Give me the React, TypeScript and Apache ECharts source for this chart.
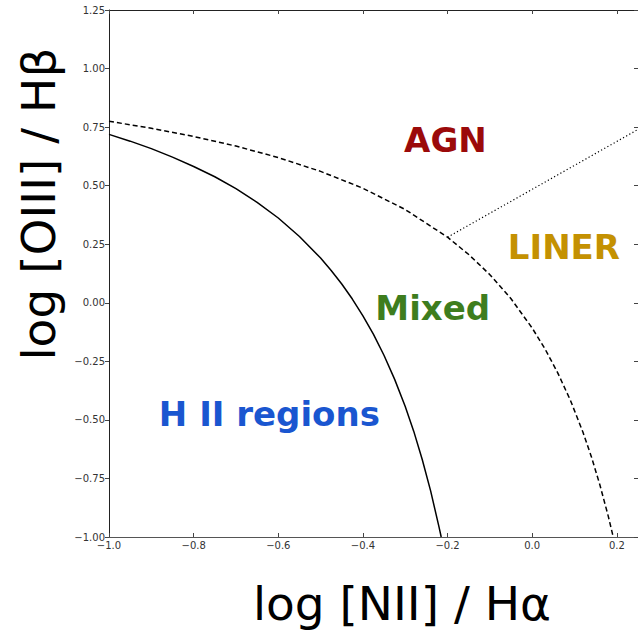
import React, { useEffect, useRef } from "react";
import * as echarts from "echarts";

// Kauffmann et al. (2003) demarcation, solid line: points
const kauffmannX = [-1.0, -0.95, -0.9, -0.85, -0.8, -0.75, -0.7, -0.65, -0.6, -0.55, -0.5, -0.475, -0.45, -0.425, -0.4, -0.375, -0.35, -0.325, -0.3, -0.28, -0.26, -0.24, -0.22, -0.215];
const kauffmannY = [0.719, 0.69, 0.658, 0.622, 0.582, 0.538, 0.487, 0.429, 0.362, 0.283, 0.191, 0.138, 0.08, 0.016, -0.056, -0.135, -0.225, -0.327, -0.443, -0.548, -0.668, -0.803, -0.959, -1.0];

// Kewley et al. (2001) maximum starburst line, dashed
const kewleyX = [-1.0, -0.9, -0.8, -0.7, -0.6, -0.5, -0.4, -0.3, -0.2, -0.15, -0.1, -0.05, 0.0, 0.03, 0.06, 0.09, 0.12, 0.14, 0.16, 0.18, 0.19, 0.1915];
const kewleyY = [0.775, 0.745, 0.71, 0.669, 0.62, 0.561, 0.489, 0.398, 0.28, 0.206, 0.12, 0.017, -0.108, -0.196, -0.298, -0.415, -0.553, -0.658, -0.778, -0.913, -0.989, -1.0];

// Seyfert / LINER division, dotted
const linerX = [-0.2, 0.25];
const linerY = [0.28, 0.74];

// Region labels
const regionNames = ["AGN", "LINER", "Mixed", "H II regions"];
const regionX = [-0.205, 0.075, -0.235, -0.621];
const regionY = [0.695, 0.238, -0.022, -0.475];
const regionColors = ["#9b0a0a", "#c49102", "#3e7d1e", "#1a56d0"];

const xTitle = "log [NII] / Hα";
const yTitle = "log [OIII] / Hβ";

const zip = (xs: number[], ys: number[]) => xs.map((x, i) => [x, ys[i]]);
const minus = (s: string) => s.replace("-", "\u2212");

export default function App() {
  const ref = useRef<HTMLDivElement>(null);
  useEffect(() => {
    if (!ref.current) return;
    const chart = echarts.init(ref.current, null, { renderer: "svg" });
    const tickFont = { fontFamily: "DejaVu Sans", fontSize: 10, color: "#333" };
    const titleFont = "DejaVu Sans";
    chart.setOption({
      animation: false,
      backgroundColor: "#ffffff",
      grid: { left: 109, right: -2, top: 10, bottom: 93, show: false },
      xAxis: [
        {
          type: "value",
          min: -1.0,
          max: 0.25,
          interval: 0.2,
          position: "bottom",
          axisLine: { show: true, onZero: false, lineStyle: { color: "#555", width: 1 } },
          axisTick: { show: true, inside: true, length: 4, lineStyle: { color: "#444" } },
          axisLabel: {
            ...tickFont,
            margin: 3,
            showMaxLabel: false,
            formatter: (v: number) => minus(v.toFixed(1)),
          },
          splitLine: { show: false },
        },
        {
          type: "value",
          min: -1.0,
          max: 0.25,
          interval: 0.2,
          position: "top",
          axisLine: { show: true, onZero: false, lineStyle: { color: "#222", width: 1 } },
          axisTick: { show: true, inside: true, length: 4, lineStyle: { color: "#444" } },
          axisLabel: { show: false },
          splitLine: { show: false },
        },
      ],
      yAxis: [
        {
          type: "value",
          min: -1.0,
          max: 1.25,
          interval: 0.25,
          position: "left",
          axisLine: { show: true, onZero: false, lineStyle: { color: "#222", width: 1 } },
          axisTick: { show: true, inside: false, length: 4, lineStyle: { color: "#444" } },
          axisLabel: {
            ...tickFont,
            margin: 4,
            formatter: (v: number) => minus(v.toFixed(2)),
          },
          splitLine: { show: false },
        },
        {
          type: "value",
          min: -1.0,
          max: 1.25,
          interval: 0.25,
          position: "right",
          axisLine: { show: false, onZero: false },
          axisTick: { show: true, inside: true, length: 4, lineStyle: { color: "#444" } },
          axisLabel: { show: false },
          splitLine: { show: false },
        },
      ],
      series: [
        {
          type: "line",
          data: zip(kauffmannX, kauffmannY),
          showSymbol: false,
          symbol: "none",
          lineStyle: { color: "#000", width: 1.5, type: "solid" },
          silent: true,
        },
        {
          type: "line",
          data: zip(kewleyX, kewleyY),
          showSymbol: false,
          symbol: "none",
          lineStyle: { color: "#000", width: 1.5, type: [5, 3] },
          silent: true,
        },
        {
          type: "line",
          data: zip(linerX, linerY),
          showSymbol: false,
          symbol: "none",
          lineStyle: { color: "#000", width: 1.2, type: [1.2, 2.4] },
          silent: true,
        },
        {
          type: "scatter",
          symbolSize: 0,
          silent: true,
          itemStyle: { opacity: 1 },
          data: regionNames.map((n, i) => ({
            value: [regionX[i], regionY[i]],
            name: n,
            label: {
              show: true,
              position: "inside",
              formatter: n,
              color: regionColors[i],
              opacity: 1,
              fontFamily: titleFont,
              fontWeight: "bold",
              fontSize: 34,
            },
          })),
        },
      ],
      graphic: [
        {
          type: "text",
          x: 402,
          y: 603,
          style: {
            text: xTitle,
            font: `47px "${titleFont}"`,
            fill: "#000",
            align: "center",
            verticalAlign: "middle",
          },
        },
        {
          type: "text",
          x: 38,
          y: 204,
          rotation: Math.PI / 2,
          style: {
            text: yTitle,
            font: `47px "${titleFont}"`,
            fill: "#000",
            align: "center",
            verticalAlign: "middle",
          },
        },
      ],
    });
    return () => chart.dispose();
  }, []);
  return (
    <div
      ref={ref}
      style={{ position: "fixed", left: 0, top: 0, width: 638, height: 630, overflow: "hidden" }}
    />
  );
}
